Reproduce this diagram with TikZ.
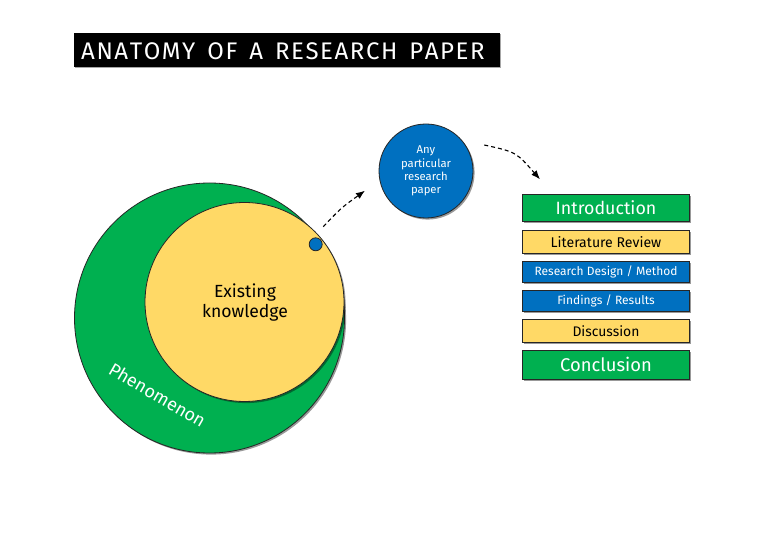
\documentclass[tikz,border=0pt]{standalone}
\usepackage{fontspec}
\setmainfont{Fira Sans}
\usetikzlibrary{shadows,arrows.meta}
\definecolor{cgreen}{RGB}{0,176,80}
\definecolor{cyellow}{RGB}{255,217,102}
\definecolor{cblue}{RGB}{0,112,192}
\newlength\ttnat
\newlength\ttk
\newlength\ttw
\newcommand\tkk{\kern\ttk}
\newcommand\tws{\kern\ttw}
\begin{document}
\begin{tikzpicture}[x=1pt,y=-1pt,
  shad/.style={drop shadow={shadow xshift=1.6pt,shadow yshift=-1.6pt,opacity=0.4,fill=black}},
  outline/.style={draw=black!85,line width=0.8pt},
  bar/.style={outline,shad,minimum width=167.7pt,inner sep=0pt,anchor=center},
  arr/.style={dash pattern=on 4pt off 3pt,line width=1.1pt,-{Latex[length=9pt,width=7pt]}}
]
\useasboundingbox (0,0) rectangle (780,540);
\fill[white] (0,0) rectangle (780,540);

% title
\node[fill=black,minimum width=426pt,minimum height=34pt,inner sep=0pt,
  drop shadow={shadow xshift=1.2pt,shadow yshift=-1.2pt,opacity=0.35,fill=black}] (title) at (287,50.3) {};
\node[anchor=base west,inner sep=0pt,text=white] (titletxt) at (81,59.5)
  {\fontsize{24}{24}\selectfont
   \settowidth\ttnat{ANATOMYOFARESEARCHPAPER}%
   \setlength\ttw{12pt}%
   \setlength\ttk{\dimexpr(397pt-\ttnat-4\ttw)/18\relax}%
   A\tkk N\tkk A\tkk T\tkk O\tkk M\tkk Y\tws O\tkk F\tws A\tws R\tkk E\tkk S\tkk E\tkk A\tkk R\tkk C\tkk H\tws P\tkk A\tkk P\tkk E\tkk R};

% circles
\node[circle,fill=cgreen,outline,shad,minimum size=270pt,inner sep=0pt] (phen) at (209.5,318) {};
\node[circle,fill=cyellow,outline,shad,minimum size=199pt,inner sep=0pt] (know) at (244.5,302) {};
\node[align=center,font=\fontsize{17.6}{20}\selectfont] (knowtxt) at (245,303) {Existing\\knowledge};
\node[rotate=-30,text=white,font=\fontsize{18}{18}\selectfont] (phentxt) at (157.5,395) {Phenomenon};
\node[circle,fill=cblue,outline,minimum size=13pt,inner sep=0pt] (dot) at (315.7,244.3) {};

\node[circle,fill=cblue,outline,shad,minimum size=94pt,inner sep=0pt,text=white,align=center,
  font=\fontsize{11.3}{13.3}\selectfont] (paper) at (426,171) {Any\\particular\\research\\paper};

% sections
\node[bar,fill=cgreen,minimum height=27.4pt,text=white,font=\fontsize{17.8}{17.8}\selectfont] (intro) at (606,208) {Introduction};
\node[bar,fill=cyellow,minimum height=23.3pt,font=\fontsize{14.1}{14.1}\selectfont] (lit) at (606,241.7) {Literature Review};
\node[bar,fill=cblue,minimum height=21.7pt,text=white,font=\fontsize{12}{12}\selectfont] (design) at (606,271.8) {Research Design / Method};
\node[bar,fill=cblue,minimum height=21pt,text=white,font=\fontsize{12}{12}\selectfont] (find) at (606,301.2) {Findings / Results};
\node[bar,fill=cyellow,minimum height=23.4pt,font=\fontsize{13.9}{13.9}\selectfont] (disc) at (606,331) {Discussion};
\node[bar,fill=cgreen,minimum height=29.3pt,text=white,font=\fontsize{18.4}{18.4}\selectfont] (concl) at (606,364.7) {Conclusion};

% arrows
\coordinate (a1s) at (323.3,226.7);
\coordinate (a1e) at (365,190.7);
\coordinate (a2s) at (484.3,145);
\coordinate (a2e) at (540,179.3);
\draw[arr] (a1s) .. controls (341,208) .. (a1e);
\draw[arr] (a2s) .. controls (516,152) .. (a2e);
\end{tikzpicture}
\end{document}
